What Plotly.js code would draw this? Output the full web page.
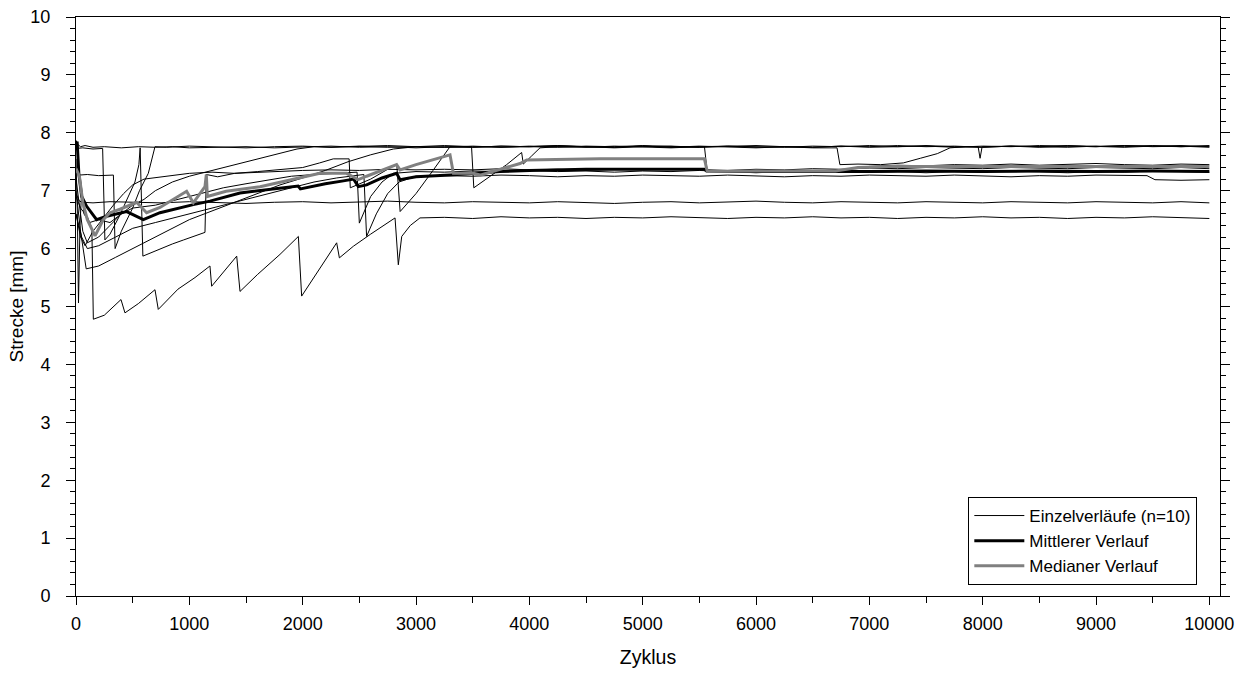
<!DOCTYPE html>
<html><head><meta charset="utf-8">
<script src="https://cdn.plot.ly/plotly-3.0.1.min.js"></script>
<style>html,body{margin:0;padding:0;background:#fff}#chart{width:1244px;height:673px}</style>
</head><body><div id="chart"></div>
<script>
// [Zyklus, Strecke mm] for each specimen
const einzel1 = [[0,7.87],[15,7.80],[40,7.76],[80,7.78],[150,7.75],[250,7.76],[400,7.74],[550,7.76],[700,7.75],[850,7.76],[1000,7.74],[1250,7.75],[1500,7.76],[1750,7.74],[2000,7.75],[2250,7.77],[2500,7.75],[2750,7.76],[3000,7.74],[3250,7.76],[3500,7.75],[3750,7.77],[4000,7.76],[4250,7.75],[4500,7.77],[4750,7.76],[5000,7.78],[5250,7.76],[5500,7.75],[5750,7.77],[6000,7.76],[6250,7.75],[6500,7.77],[6750,7.76],[7000,7.78],[7250,7.76],[7500,7.77],[7750,7.75],[8000,7.77],[8250,7.76],[8500,7.78],[8750,7.77],[9000,7.76],[9250,7.78],[9500,7.77],[9750,7.76],[10000,7.78]];
const einzel2 = [[0,7.73],[60,7.74],[150,7.72],[235,7.73],[255,6.15],[300,6.25],[380,6.55],[450,6.85],[520,7.15],[555,7.45],[566,7.74],[590,5.87],[650,5.92],[750,6.00],[850,6.08],[950,6.15],[1050,6.22],[1138,6.28],[1150,7.28],[1250,7.24],[1400,7.30],[1600,7.32],[1800,7.34],[2000,7.35],[2250,7.36],[2500,7.35],[2750,7.37],[3000,7.36],[3250,7.37],[3500,7.36],[3750,7.38],[4000,7.36],[4250,7.37],[4500,7.35],[4750,7.37],[5000,7.36],[5250,7.38],[5500,7.36],[5750,7.35],[6000,7.37],[6250,7.36],[6500,7.38],[6750,7.37],[7000,7.39],[7250,7.38],[7500,7.40],[7750,7.39],[8000,7.38],[8250,7.40],[8500,7.39],[8750,7.38],[9000,7.40],[9250,7.39],[9500,7.38],[9750,7.40],[10000,7.38]];
const einzel3 = [[0,7.30],[30,7.27],[100,7.28],[200,7.26],[330,7.27],[345,6.00],[400,6.30],[500,6.70],[560,7.00],[638,7.30],[697,7.76],[800,7.75],[1000,7.77],[1250,7.76],[1500,7.74],[1750,7.76],[2000,7.77],[2250,7.75],[2500,7.76],[2750,7.78],[3000,7.76],[3250,7.75],[3500,7.77],[3750,7.75],[4000,7.76],[4250,7.78],[4500,7.76],[4750,7.75],[5000,7.77],[5250,7.75],[5500,7.77],[5750,7.76],[6000,7.74],[6250,7.76],[6500,7.75],[6750,7.77],[7000,7.76],[7250,7.78],[7500,7.76],[7750,7.77],[8000,7.75],[8250,7.77],[8500,7.76],[8750,7.78],[9000,7.77],[9250,7.75],[9500,7.77],[9750,7.78],[10000,7.76]];
const einzel4 = [[0,6.90],[40,6.70],[100,6.55],[140,6.35],[153,4.78],[250,4.85],[397,5.12],[432,4.89],[550,5.05],[697,5.29],[726,4.95],[900,5.30],[1050,5.50],[1182,5.70],[1197,5.35],[1300,5.60],[1418,5.87],[1447,5.26],[1600,5.55],[1800,5.90],[1962,6.21],[1991,5.18],[2150,5.65],[2300,6.10],[2324,5.84],[2447,6.04],[2600,6.25],[2815,6.53],[2844,5.72],[2874,6.21],[2950,6.40],[3035,6.53],[3250,6.54],[3500,6.52],[3750,6.55],[4000,6.53],[4250,6.54],[4500,6.52],[4750,6.54],[5000,6.53],[5250,6.55],[5500,6.53],[5750,6.52],[6000,6.54],[6250,6.53],[6500,6.55],[6750,6.53],[7000,6.54],[7250,6.52],[7500,6.54],[7750,6.53],[8000,6.55],[8250,6.53],[8500,6.54],[8750,6.52],[9000,6.54],[9250,6.53],[9500,6.55],[9750,6.54],[10000,6.52]];
const einzel5 = [[0,6.95],[30,6.82],[60,6.80],[150,6.79],[300,6.81],[500,6.80],[750,6.79],[1000,6.81],[1250,6.80],[1500,6.78],[1750,6.80],[2000,6.81],[2250,6.79],[2500,6.80],[2750,6.82],[3000,6.80],[3250,6.79],[3500,6.81],[3750,6.80],[4000,6.79],[4250,6.81],[4500,6.80],[4750,6.78],[5000,6.80],[5250,6.81],[5500,6.79],[5750,6.80],[6000,6.82],[6250,6.80],[6500,6.79],[6750,6.81],[7000,6.80],[7250,6.79],[7500,6.81],[7750,6.80],[8000,6.79],[8250,6.81],[8500,6.80],[8750,6.79],[9000,6.81],[9250,6.80],[9500,6.79],[9750,6.81],[10000,6.79]];
const einzel6 = [[0,7.55],[12,6.60],[22,5.06],[35,6.40],[50,7.00],[70,6.60],[120,6.45],[200,6.50],[300,6.45],[400,6.60],[500,6.70],[600,6.72],[700,6.75],[900,6.85],[1100,6.95],[1300,7.05],[1500,7.12],[1700,7.18],[1900,7.25],[2100,7.28],[2300,7.30],[2480,7.32],[2500,6.44],[2600,6.90],[2700,7.15],[2800,7.30],[3000,7.33],[3250,7.32],[3500,7.34],[3750,7.33],[4000,7.35],[4250,7.33],[4500,7.34],[4750,7.32],[5000,7.34],[5250,7.33],[5500,7.35],[5750,7.33],[6000,7.34],[6250,7.32],[6500,7.34],[6750,7.36],[7000,7.42],[7250,7.44],[7500,7.43],[7750,7.45],[8000,7.44],[8250,7.46],[8500,7.44],[8750,7.45],[9000,7.47],[9250,7.45],[9500,7.44],[9750,7.46],[10000,7.45]];
const einzel7 = [[0,6.60],[50,6.20],[100,6.00],[200,6.05],[350,6.20],[500,6.35],[700,6.45],[900,6.55],[1100,6.65],[1300,6.75],[1500,6.85],[1700,6.95],[1900,7.05],[2100,7.15],[2300,7.22],[2540,7.28],[2564,6.21],[2650,6.60],[2750,6.95],[2850,7.15],[3000,7.25],[3250,7.26],[3500,7.25],[3750,7.27],[4000,7.26],[4250,7.24],[4500,7.26],[4750,7.25],[5000,7.27],[5250,7.26],[5500,7.25],[5750,7.27],[6000,7.26],[6250,7.24],[6500,7.26],[6750,7.25],[7000,7.27],[7250,7.26],[7500,7.25],[7750,7.27],[8000,7.26],[8250,7.24],[8500,7.26],[8750,7.25],[9000,7.27],[9250,7.26],[9450,7.26],[9520,7.19],[9750,7.18],[10000,7.19]];
const einzel8 = [[0,7.00],[40,6.30],[90,5.65],[200,5.70],[350,5.85],[500,6.00],[650,6.15],[800,6.30],[1000,6.50],[1200,6.65],[1400,6.80],[1600,6.95],[1800,7.10],[2000,7.22],[2200,7.35],[2400,7.50],[2600,7.62],[2800,7.72],[3000,7.76],[3250,7.75],[3490,7.76],[3510,7.05],[3650,7.25],[3800,7.45],[3932,7.66],[3947,7.46],[4020,7.60],[4094,7.74],[4250,7.76],[4500,7.76],[4750,7.75],[5000,7.77],[5250,7.75],[5545,7.76],[5570,7.32],[5750,7.33],[6000,7.31],[6250,7.33],[6500,7.32],[6750,7.34],[7000,7.32],[7250,7.33],[7500,7.31],[7750,7.33],[8000,7.32],[8250,7.34],[8500,7.33],[8750,7.31],[9000,7.33],[9250,7.32],[9500,7.34],[9750,7.33],[10000,7.32]];
const einzel9 = [[0,7.20],[30,6.70],[60,6.30],[100,6.10],[200,6.20],[300,6.40],[400,6.60],[500,6.75],[600,6.85],[700,7.00],[850,7.15],[1000,7.25],[1200,7.35],[1400,7.45],[1600,7.55],[1800,7.65],[1950,7.72],[2100,7.76],[2250,7.75],[2500,7.77],[2750,7.75],[3000,7.76],[3250,7.78],[3500,7.76],[3750,7.75],[4000,7.77],[4250,7.76],[4500,7.75],[4750,7.77],[5000,7.76],[5250,7.74],[5500,7.76],[5750,7.77],[6000,7.75],[6250,7.76],[6500,7.74],[6715,7.74],[6740,7.45],[6900,7.46],[7100,7.45],[7300,7.48],[7450,7.56],[7600,7.64],[7712,7.74],[7850,7.76],[7960,7.76],[7977,7.56],[7995,7.76],[8250,7.77],[8500,7.75],[8750,7.77],[9000,7.76],[9250,7.78],[9500,7.76],[9750,7.77],[10000,7.75]];
const einzel10 = [[0,6.60],[40,6.20],[80,6.05],[150,6.30],[250,6.55],[330,6.75],[420,6.95],[500,7.10],[600,7.20],[800,7.25],[1000,7.30],[1200,7.32],[1400,7.30],[1600,7.33],[1800,7.36],[2000,7.40],[2150,7.48],[2270,7.55],[2410,7.55],[2420,7.05],[2600,7.20],[2830,7.46],[2860,6.64],[3000,6.95],[3150,7.35],[3300,7.76],[3500,7.75],[3750,7.77],[4000,7.76],[4250,7.78],[4500,7.76],[4750,7.74],[5000,7.76],[5250,7.77],[5500,7.75],[5750,7.76],[6000,7.78],[6250,7.76],[6500,7.75],[6750,7.77],[7000,7.75],[7250,7.76],[7500,7.78],[7750,7.76],[8000,7.75],[8250,7.77],[8500,7.76],[8750,7.75],[9000,7.77],[9250,7.76],[9500,7.78],[9750,7.76],[10000,7.77]];
const mittel = [[0,7.70],[10,7.85],[25,7.30],[50,6.90],[94,6.73],[182,6.50],[270,6.56],[447,6.64],[594,6.50],[741,6.62],[1035,6.76],[1182,6.82],[1447,6.96],[1700,7.02],[1960,7.08],[1980,7.03],[2200,7.12],[2359,7.17],[2450,7.20],[2491,7.07],[2564,7.10],[2700,7.22],[2829,7.30],[2859,7.19],[3000,7.24],[3300,7.27],[3535,7.30],[3741,7.33],[4000,7.35],[4500,7.37],[5000,7.37],[5545,7.37],[5570,7.33],[6000,7.33],[6500,7.32],[7000,7.33],[7500,7.34],[8000,7.33],[8500,7.34],[9000,7.33],[9500,7.34],[10000,7.33]];
const median = [[0,7.38],[30,7.25],[60,6.80],[100,6.50],[168,6.22],[182,6.27],[241,6.50],[300,6.62],[388,6.68],[535,6.80],[623,6.62],[741,6.71],[976,6.99],[1035,6.79],[1138,7.07],[1150,7.28],[1159,6.90],[1324,6.99],[1624,7.07],[2035,7.25],[2152,7.30],[2388,7.30],[2491,7.19],[2564,7.25],[2829,7.45],[2859,7.36],[3000,7.45],[3300,7.62],[3330,7.30],[3506,7.30],[3565,7.27],[3918,7.47],[3977,7.53],[4624,7.55],[5000,7.55],[5545,7.55],[5570,7.33],[6000,7.34],[6700,7.34],[6900,7.40],[7200,7.42],[8000,7.42],[9000,7.43],[10000,7.42]];

const einzel = [einzel1,einzel2,einzel3,einzel4,einzel5,einzel6,einzel7,einzel8,einzel9,einzel10];
const legendNames = ['Einzelverläufe (n=10)','Mittlerer Verlauf','Medianer Verlauf'];

const FONT = 'Liberation Sans, Arial, sans-serif';
const traces = [];
einzel.forEach((d,i) => {
  traces.push({x:d.map(p=>p[0]), y:d.map(p=>p[1]), type:'scatter', mode:'lines',
    name:legendNames[0], legendgroup:'e', showlegend:i===0,
    line:{color:'#000', width:1}, hoverinfo:'skip'});
});
traces.push({x:mittel.map(p=>p[0]), y:mittel.map(p=>p[1]), type:'scatter', mode:'lines',
  name:legendNames[1], legendgroup:'e', line:{color:'#000', width:3}});
traces.push({x:median.map(p=>p[0]), y:median.map(p=>p[1]), type:'scatter', mode:'lines',
  name:legendNames[2], legendgroup:'e', line:{color:'#808080', width:3}});

const layout = {
  width:1244, height:673,
  margin:{l:76, r:24, t:17, b:77},
  paper_bgcolor:'#fff', plot_bgcolor:'#fff',
  font:{family:FONT, size:18, color:'#000'},
  showlegend:true,
  legend:{x:0.78, y:0.171, xanchor:'left', yanchor:'top', bgcolor:'#fff',
    bordercolor:'#000', borderwidth:1, font:{family:FONT, size:17, color:'#000'},
    tracegroupgap:0, itemwidth:50},
  xaxis:{range:[0,10094], showgrid:false, zeroline:false, showline:true, linecolor:'#000', linewidth:1,
    mirror:true, ticks:'outside', ticklen:8, tickwidth:1, tickcolor:'#000', dtick:1000, tick0:0,
    tickformat:'d', ticklabelstandoff:3,
    minor:{dtick:500, ticks:'outside', ticklen:6, tickwidth:1, tickcolor:'#000', showgrid:false},
    title:{text:'Zyklus', font:{family:FONT, size:19.5}, standoff:17}, tickfont:{family:FONT, size:18}},
  yaxis:{range:[0,10], showgrid:false, zeroline:false, showline:true, linecolor:'#000', linewidth:1,
    mirror:'ticks', ticks:'outside', ticklen:9, tickwidth:1, tickcolor:'#000', dtick:1, tick0:0,
    tickformat:'d', ticklabelstandoff:12,
    minor:{dtick:0.2, ticks:'outside', ticklen:5, tickwidth:1, tickcolor:'#000', showgrid:false},
    title:{text:'Strecke [mm]', font:{family:FONT, size:19}, standoff:1}, tickfont:{family:FONT, size:18}}
};
Plotly.newPlot('chart', traces, layout, {displayModeBar:false, staticPlot:true});
</script></body></html>
